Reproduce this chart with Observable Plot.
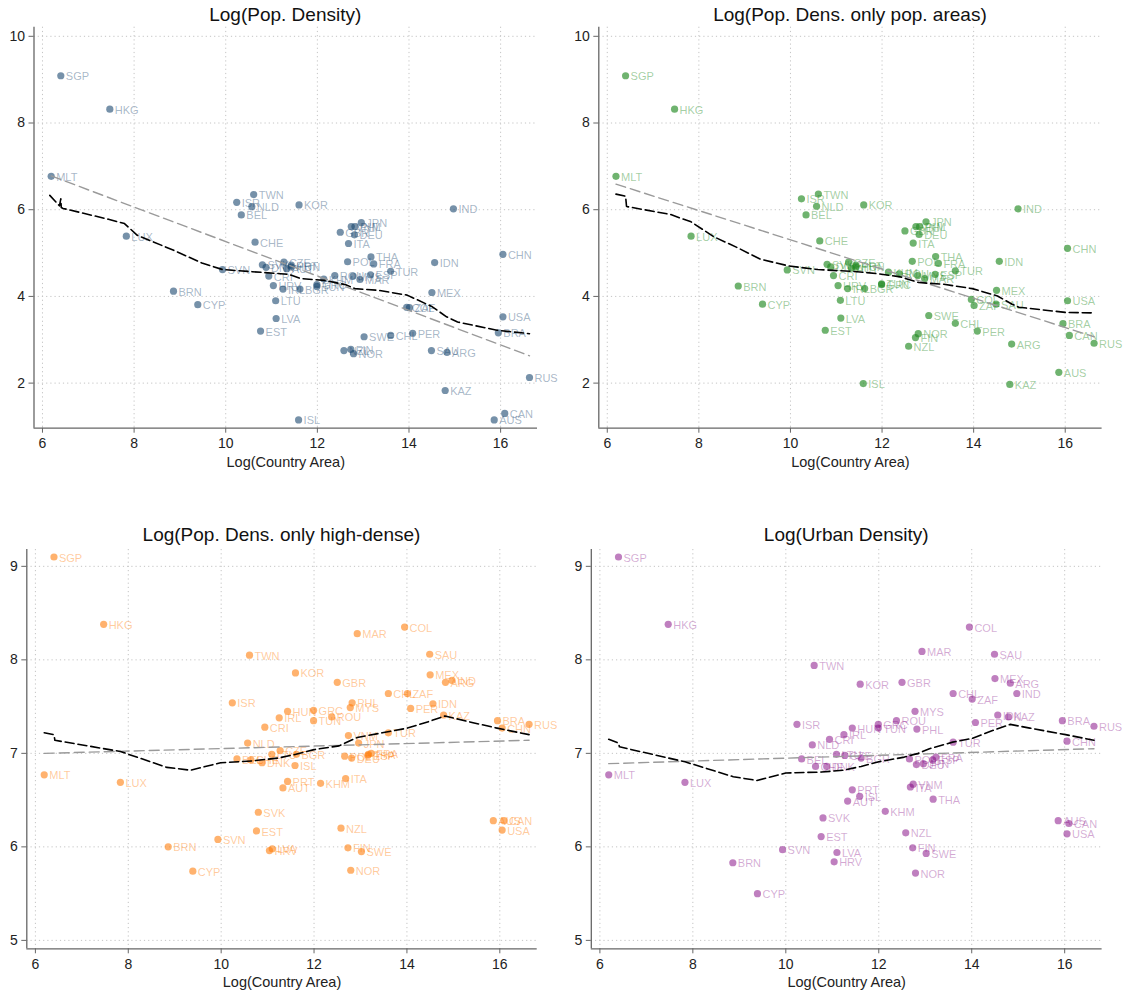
<!DOCTYPE html>
<html><head><meta charset="utf-8">
<script src="https://cdn.jsdelivr.net/npm/d3@7"></script>
<script src="https://cdn.jsdelivr.net/npm/@observablehq/plot@0.6"></script>
<style>
body{margin:0;background:#fff;font-family:"Liberation Sans",Arial,sans-serif;}
#root{position:relative;width:1124px;height:994px;overflow:hidden;}
.panel{position:absolute;}
.title{position:absolute;text-align:center;font-size:19px;line-height:22px;color:#111;font-family:"Liberation Sans",Arial,sans-serif;}
</style></head><body><div id="root"></div>
<script>
// ---- data ----
const countries = ["SGP","HKG","MLT","LUX","BRN","CYP","SVN","ISR","BEL","NLD","TWN","CHE","EST","SVK","DNK","CRI","HRV","LTU","LVA","IRL","CZE","AUT","HUN","PRT","ISL","KOR","BGR","GRC","TUN","KHM","ROU","GBR","NZL","POL","ITA","FIN","VNM","MYS","NOR","DEU","PHL","MAR","JPN","SWE","ESP","THA","FRA","CHL","TUR","COL","ZAF","PER","SAU","MEX","IDN","KAZ","ARG","IND","AUS","BRA","USA","CHN","CAN","RUS"];
const logArea = [6.40,7.47,6.19,7.83,8.86,9.39,9.93,10.24,10.34,10.57,10.61,10.64,10.76,10.80,10.88,10.94,11.04,11.09,11.10,11.25,11.27,11.33,11.43,11.43,11.59,11.60,11.62,11.99,11.99,12.14,12.38,12.50,12.58,12.66,12.68,12.73,12.74,12.78,12.79,12.81,12.82,12.93,12.96,13.02,13.16,13.17,13.23,13.60,13.60,13.95,14.01,14.08,14.49,14.50,14.56,14.79,14.83,14.97,15.86,15.95,16.05,16.05,16.09,16.63];
const popDensity = [9.09,8.32,6.77,5.39,4.12,3.81,4.62,6.17,5.88,6.07,6.35,5.25,3.20,4.73,4.67,4.47,4.25,3.90,3.49,4.17,4.79,4.64,4.68,4.72,1.15,6.11,4.17,4.27,4.23,4.40,4.48,5.48,2.75,4.80,5.22,2.78,5.61,4.47,2.68,5.42,5.61,4.39,5.70,3.07,4.50,4.91,4.75,3.10,4.58,3.75,3.74,3.15,2.75,4.09,4.78,1.83,2.71,6.02,1.15,3.16,3.53,4.97,1.30,2.13];
const popDensPopAreas = [9.09,8.32,6.77,5.39,4.24,3.82,4.61,6.25,5.88,6.08,6.36,5.28,3.22,4.74,4.68,4.48,4.25,3.91,3.50,4.18,4.79,4.65,4.68,4.72,1.99,6.11,4.18,4.27,4.29,4.56,4.52,5.51,2.85,4.81,5.23,3.05,5.61,4.48,3.14,5.43,5.61,4.41,5.72,3.56,4.51,4.92,4.76,3.38,4.59,3.93,3.79,3.20,3.82,4.14,4.81,1.97,2.90,6.02,2.25,3.37,3.90,5.11,3.10,2.92];
const popDensHighDense = [9.10,8.38,6.77,6.69,6.00,5.74,6.08,7.54,6.94,7.11,8.05,6.93,6.17,6.37,6.90,7.28,5.96,6.99,5.98,7.38,7.03,6.63,7.45,6.70,6.87,7.86,6.99,7.46,7.35,6.68,7.39,7.76,6.20,6.97,6.73,5.99,7.19,7.49,5.75,6.95,7.54,8.28,7.11,5.95,6.98,6.99,7.00,7.64,7.22,8.35,7.64,7.48,8.06,7.84,7.53,7.41,7.76,7.78,6.28,7.35,6.18,7.27,6.28,7.31];
const urbanDensity = [9.10,8.38,6.77,6.69,5.83,5.50,5.97,7.31,6.94,7.09,7.94,6.86,6.11,6.31,6.86,7.15,5.84,6.99,5.94,7.20,6.98,6.49,7.27,6.61,6.54,7.74,6.95,7.31,7.27,6.38,7.35,7.76,6.15,6.94,6.64,5.99,6.67,7.45,5.72,6.88,7.26,8.09,6.89,5.93,6.93,6.51,6.96,7.64,7.12,8.35,7.58,7.33,8.06,7.80,7.41,7.39,7.75,7.64,6.28,7.35,6.14,7.13,6.25,7.29];

// linear fits (gray dashed)
const fit1X = [6.19,16.63], fit1Y = [6.78,2.63];
const fit2X = [6.19,16.63], fit2Y = [6.59,3.07];
const fit3X = [6.19,16.63], fit3Y = [7.00,7.14];
const fit4X = [6.19,16.63], fit4Y = [6.89,7.05];

// local smooth (black dashed)
const smooth1X = [6.16,6.37,6.40,6.41,6.45,7.44,7.79,8.07,8.85,9.48,9.93,10.58,11.37,11.64,12.15,12.62,12.82,13.33,13.96,14.51,14.82,15.06,15.92,16.63];
const smooth1Y = [6.33,6.09,6.25,6.05,6.03,5.78,5.68,5.41,5.07,4.77,4.62,4.57,4.51,4.41,4.37,4.27,4.18,4.14,4.03,3.76,3.53,3.41,3.22,3.14];
const smooth2X = [6.19,6.40,6.42,6.44,7.38,7.83,8.32,8.87,9.34,9.97,10.60,11.46,11.93,12.40,12.80,13.35,13.97,14.52,14.84,14.99,16.02,16.63];
const smooth2Y = [6.36,6.31,6.08,6.07,5.89,5.72,5.38,5.11,4.86,4.70,4.62,4.57,4.52,4.45,4.32,4.28,4.18,4.01,3.82,3.75,3.63,3.62];
const smooth3X = [6.19,6.40,6.42,7.83,8.83,9.34,9.99,10.69,11.23,11.61,12.0,12.54,12.93,13.47,14.01,14.47,14.82,15.32,15.94,16.63];
const smooth3Y = [7.22,7.20,7.14,7.02,6.85,6.82,6.90,6.92,6.95,6.99,7.04,7.08,7.17,7.22,7.27,7.34,7.40,7.34,7.27,7.20];
const smooth4X = [6.19,6.40,6.42,7.83,8.87,9.38,10.0,10.77,11.23,11.62,12.0,12.55,12.85,13.09,13.59,14.01,14.48,14.83,15.25,16.02,16.63];
const smooth4Y = [7.15,7.11,7.07,6.91,6.75,6.71,6.79,6.80,6.82,6.86,6.91,6.96,7.00,7.05,7.12,7.16,7.25,7.31,7.27,7.20,7.14];

const titles = ["Log(Pop. Density)","Log(Pop. Dens. only pop. areas)","Log(Pop. Dens. only high-dense)","Log(Urban Density)"];
const xTicks = [6,8,10,12,14,16];
const yTicksTop = [2,4,6,8,10];
const yTicksBottom = [5,6,7,8,9];
const xLabel = "Log(Country Area)";

// ---- drawing ----
const series = [popDensity, popDensPopAreas, popDensHighDense, urbanDensity];
const fits = [[fit1X,fit1Y],[fit2X,fit2Y],[fit3X,fit3Y],[fit4X,fit4Y]];
const smooths = [[smooth1X,smooth1Y],[smooth2X,smooth2Y],[smooth3X,smooth3Y],[smooth4X,smooth4Y]];
const colors = ["#1a476f","#228b22","#ff7f0e","#800080"];
const dotOpacity = [0.6,0.65,0.6,0.5];
const labelOpacity = [0.4,0.42,0.42,0.34];

const layouts = [
  {left:0, top:0, height:490, mL:33.5, mR:25, mT:26.7, mB:62.3, yDom:[0.96,10.21], yTicks:yTicksTop, titleTop:4},
  {left:562, top:0, height:490, mL:36.3, mR:22.4, mT:26.7, mB:62.3, yDom:[0.96,10.21], yTicks:yTicksTop, titleTop:4},
  {left:0, top:510, height:484, mL:26.3, mR:25.3, mT:39, mB:45.7, yDom:[4.91,9.18], yTicks:yTicksBottom, titleTop:14},
  {left:562, top:510, height:484, mL:28.8, mR:22.4, mT:39, mB:45.7, yDom:[4.91,9.18], yTicks:yTicksBottom, titleTop:14}
];
const xDom = [5.815, 16.805];
const root = document.getElementById("root");

layouts.forEach((L, i) => {
  const pts = countries.map((c, k) => ({code:c, x:logArea[k], y:series[i][k]}));
  const fit = fits[i][0].map((x,k) => ({x, y:fits[i][1][k]}));
  const sm = smooths[i][0].map((x,k) => ({x, y:smooths[i][1][k]}));
  const chart = Plot.plot({
    width:562, height:L.height,
    marginLeft:L.mL, marginRight:L.mR, marginTop:L.mT, marginBottom:L.mB,
    x:{domain:xDom}, y:{domain:L.yDom},
    style:{fontFamily:"'Liberation Sans',Arial,sans-serif", color:"#222", background:"white", overflow:"visible"},
    marks:[
      Plot.ruleX(xTicks, {stroke:"#c4c4c4", strokeDasharray:"1.2,3", strokeWidth:1}),
      Plot.ruleY(L.yTicks, {stroke:"#c4c4c4", strokeDasharray:"1.2,3", strokeWidth:1}),
      Plot.dot(pts, {x:"x", y:"y", r:3.6, fill:colors[i], fillOpacity:dotOpacity[i], stroke:"none"}),
      Plot.text(pts, {x:"x", y:"y", text:"code", textAnchor:"start", dx:5, dy:1, fill:colors[i], fillOpacity:labelOpacity[i], fontSize:11}),
      Plot.line(fit, {x:"x", y:"y", stroke:"#9a9a9a", strokeWidth:1.4, strokeDasharray:"10,5"}),
      Plot.line(sm, {x:"x", y:"y", stroke:"#000", strokeWidth:1.6, strokeDasharray:"9,4"}),
      Plot.ruleX([xDom[0]], {stroke:"#666", strokeWidth:1.3}),
      Plot.ruleY([L.yDom[0]], {stroke:"#666", strokeWidth:1.3}),
      Plot.axisX({ticks:xTicks, tickFormat:"d", tickSize:5, tickPadding:5, fontSize:14, label:null, stroke:"#666"}),
      Plot.axisY({ticks:L.yTicks, tickFormat:"d", tickSize:5, tickPadding:4, fontSize:14, label:null, stroke:"#666"}),
      Plot.text([xLabel], {frameAnchor:"bottom", dy:34, lineAnchor:"middle", fontSize:14.5, fill:"#222"})
    ]
  });
  const wrap = document.createElement("div");
  wrap.className = "panel";
  wrap.style.left = L.left + "px";
  wrap.style.top = L.top + "px";
  wrap.appendChild(chart);
  root.appendChild(wrap);
  const t = document.createElement("div");
  t.className = "title";
  t.textContent = titles[i];
  t.style.left = (L.left + L.mL) + "px";
  t.style.width = (562 - L.mL - L.mR) + "px";
  t.style.top = (L.top + L.titleTop) + "px";
  root.appendChild(t);
});
</script></body></html>
